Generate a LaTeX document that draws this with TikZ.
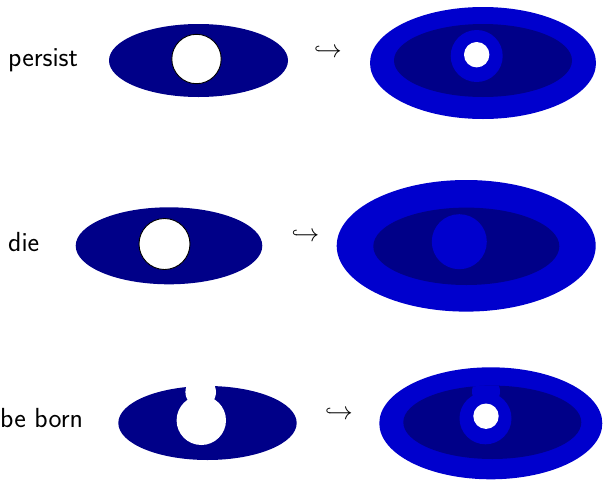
\documentclass[tikz,border=0pt]{standalone}
\usepackage{fontspec}
\begin{document}
\begin{tikzpicture}[x=1pt,y=-1pt,
  lbl/.style={anchor=base west,inner sep=0pt,font=\fontsize{27.6}{33}\selectfont\sffamily},
  arr/.style={anchor=base west,inner sep=0pt,font=\fontsize{27.6}{33}\selectfont},
  darkset/.style={fill=navyc},
  thick set/.style={fill=medc},
  holeline/.style={fill=white,draw=black,line width=0.9pt}]
\definecolor{navyc}{RGB}{0,0,136}
\definecolor{medc}{RGB}{0,0,205}
\useasboundingbox (0,0) rectangle (603,480);

% row 1
\node[lbl] (l1) at (8,66.5) {persist};
\fill[darkset] (198.5,60.5) ellipse [x radius=89.5,y radius=36.5];
\draw[holeline] (196.5,59) circle [radius=24.7];
\node[arr] (a1) at (314,57.8) {$\hookrightarrow$};
\fill[thick set] (483,63) ellipse [x radius=113,y radius=56];
\fill[darkset] (483,60.5) ellipse [x radius=89,y radius=36.5];
\fill[thick set] (476.7,56) circle [radius=26];
\fill[white] (476.7,54.7) circle [radius=12.7];

% row 2
\node[lbl] (l2) at (8,251.5) {die};
\fill[darkset] (169,245.8) ellipse [x radius=93.3,y radius=38.5];
\draw[holeline] (164.5,244) circle [radius=25.5];
\node[arr] (a2) at (291.5,241.4) {$\hookrightarrow$};
\fill[thick set] (466.2,245.8) ellipse [x radius=129.5,y radius=65.8];
\fill[darkset] (466.3,246.3) ellipse [x radius=93,y radius=38.7];
\fill[thick set] (459.3,241.7) circle [radius=27.5];

% row 3
\node[lbl] (l3) at (0,427) {be born};
\fill[darkset] (207.5,423) ellipse [x radius=89.2,y radius=37];
\fill[white] (201.3,420.3) circle [radius=24.7];
\fill[white] (200.7,392) circle [radius=15.3];
\node[arr] (a3) at (325,419.4) {$\hookrightarrow$};
\fill[thick set] (490.8,423.3) ellipse [x radius=111.5,y radius=56];
\fill[darkset] (492.3,422.3) ellipse [x radius=89,y radius=36.7];
\begin{scope}
  \clip (492.3,422.3) ellipse [x radius=89,y radius=36.7];
  \fill[thick set] (486,391.5) circle [radius=14];
\end{scope}
\fill[thick set] (485.5,418.3) circle [radius=26];
\fill[white] (486,416.2) circle [radius=12.7];
\end{tikzpicture}
\end{document}
